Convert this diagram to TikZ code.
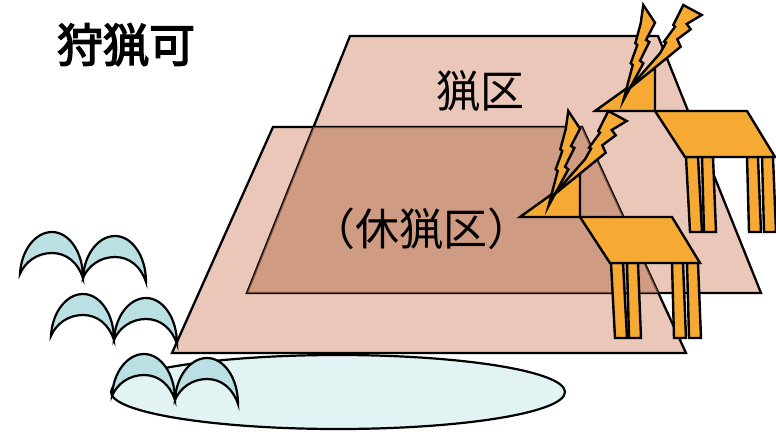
\documentclass[tikz,border=0pt]{standalone}
\usepackage{fontspec}
\newfontfamily\jpfont{Noto Sans CJK JP}
\newfontfamily\jpheavy{Noto Sans CJK JP}[FakeBold=3]
\definecolor{zonepink}{RGB}{234,199,184}
\definecolor{zonetint}{RGB}{190,126,96}
\definecolor{pondcyan}{RGB}{226,243,243}
\definecolor{wavecyan}{RGB}{186,224,227}
\definecolor{towerorange}{RGB}{246,170,52}
\begin{document}
\begin{tikzpicture}[x=1pt,y=-1pt,
  outline/.style={draw=black,line width=2.3pt,line join=miter},
  wave/.style={fill=wavecyan,draw=black,line width=2.2pt,line join=miter},
  towerpiece/.style={fill=towerorange,draw=black,line width=2.4pt,line join=miter},
  jplabel/.style={font=\jpfont\fontsize{44}{50}\selectfont,inner sep=0pt}]
\useasboundingbox (0,0) rectangle (776,431);

% pond
\path[fill=pondcyan,draw=black,line width=2.2pt] (338,392) ellipse [x radius=227,y radius=37];

% the two hunting zones
\def\zoneA{(350,36) -- (658,36) -- (761,293) -- (247,293) -- cycle}
\def\zoneB{(273,127) -- (582,127) -- (686,353) -- (172,353) -- cycle}
\fill[zonepink] \zoneA;
\fill[zonepink] \zoneB;
\draw[outline] \zoneA;
\draw[outline] \zoneB;
\begin{scope}
  \clip \zoneA;
  \fill[zonetint,opacity=0.6] \zoneB;
\end{scope}

% crescent waves
\tikzset{
  crescent/.pic={
    \path[wave] (0,0) .. controls (1,-23) and (15,-42) .. (32,-42)
      .. controls (49,-42) and (63,-22) .. (63,4)
      .. controls (58,-11) and (47,-21) .. (32,-21)
      .. controls (17,-21) and (5,-12) .. (0,0) -- cycle;
  },
  crescentpair/.pic={
    \pic at (0,0) {crescent};
    \pic at (63,4) {crescent};
  }
}
\pic at (20,274) {crescentpair};
\pic at (51,336) {crescentpair};
\pic at (112,396) {crescentpair};

% watch towers with lightning
\newcommand\drawtower{%
  % legs
  \path[towerpiece] (686,157) -- (698,157) -- (702,232) -- (690,232) -- cycle;
  \path[towerpiece] (702,157) -- (713,157) -- (716,232) -- (704,232) -- cycle;
  \path[towerpiece] (747,157) -- (758,157) -- (761,232) -- (749,232) -- cycle;
  \path[towerpiece] (762,157) -- (773,157) -- (776,232) -- (764,232) -- cycle;
  % platform
  \path[towerpiece] (655,111) -- (747,111) -- (775,157) -- (685,157) -- cycle;
  % roof
  \path[towerpiece] (595,111) -- (655,111) -- (655,68) -- cycle;
  % lightning bolts
  \path[towerpiece] (643.3,5) -- (655,22.7) -- (646,40) -- (649.3,42) -- (640,60.7)
    -- (643.3,63.3) -- (623.5,100) -- (632.7,65) -- (630.7,63.3) -- (637.3,45)
    -- (635.3,43.3) -- (640.7,23.3) -- cycle;
  \path[towerpiece] (683.3,5) -- (701.7,15) -- (686.7,24) -- (690.7,29.3) -- (677.3,39.3)
    -- (680.7,46.7) -- (628.3,89.3) -- (660,53.3) -- (666,42.7) -- (664,41.7)
    -- (675,26.7) -- (673.3,25) -- cycle;
}
\drawtower
\begin{scope}[shift={(-75,106)}]
  \drawtower
\end{scope}

% labels
\node[jplabel,font=\jpheavy\fontsize{46}{50}\selectfont] (permit) at (126,45) {狩猟可};
\node[jplabel] (zone) at (480,91) {猟区};
\node[jplabel] (closed) at (421,229) {（休猟区）};
\end{tikzpicture}
\end{document}
